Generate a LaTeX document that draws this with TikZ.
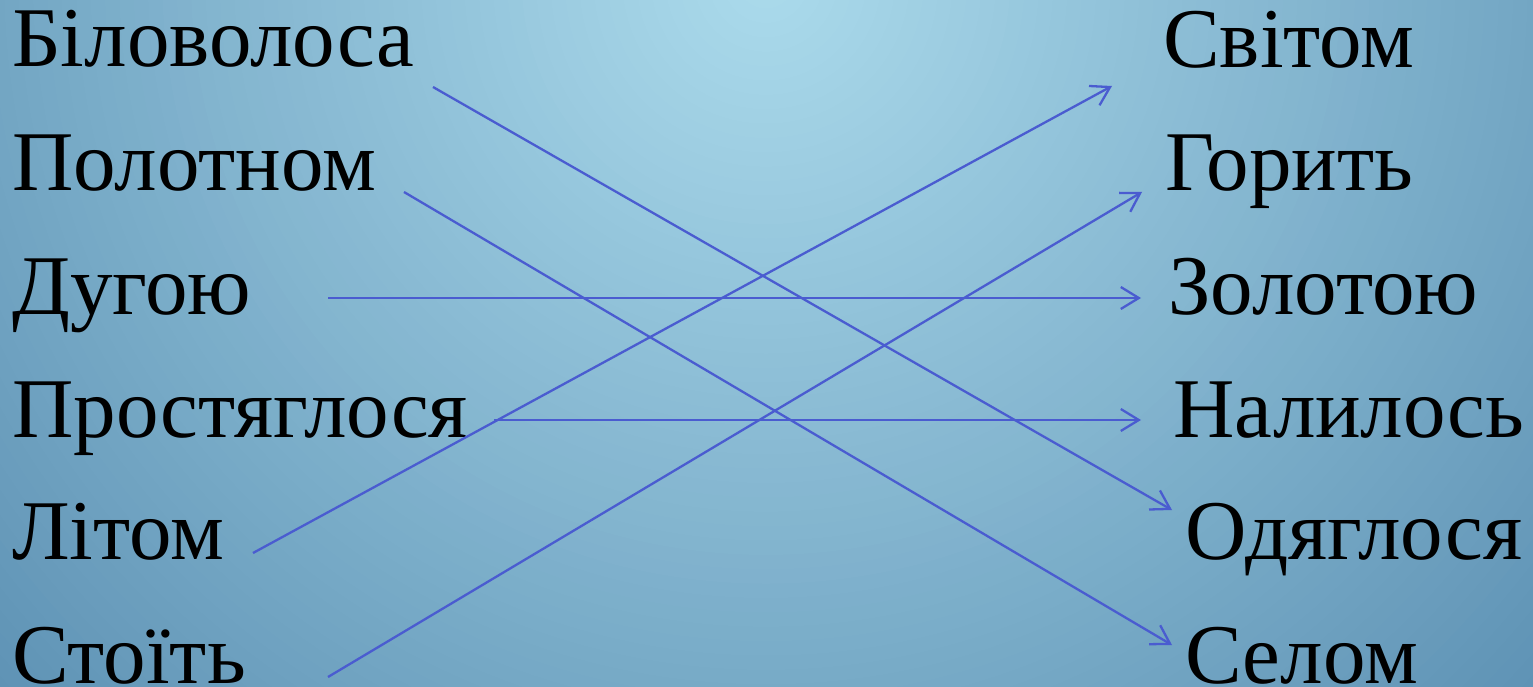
\documentclass[tikz,border=0pt]{standalone}
\usepackage{fontspec}
\setmainfont{Liberation Serif}
\usetikzlibrary{arrows.meta}
\definecolor{bginner}{RGB}{170,218,235}
\definecolor{bgouter}{RGB}{88,140,176}
\definecolor{arrowblue}{RGB}{74,92,208}
\tikzset{
  word/.style={anchor=base west, inner sep=0pt, text=black, font=\fontsize{85}{85}\selectfont},
  link/.style={draw=arrowblue, line width=2.3pt, -{Straight Barb[length=18pt,width=22pt,line width=2.3pt]}}
}
\begin{document}
\begin{tikzpicture}[x=1pt,y=-1pt]
\useasboundingbox (0,0) rectangle (1533,687);
\begin{scope}
\clip (0,0) rectangle (1533,687);
\fill[bgouter] (0,0) rectangle (1533,687);
\foreach \i in {0,...,79}{
  \pgfmathsetmacro{\rr}{1150*(1-\i/80)}
  \pgfmathsetmacro{\pp}{100*\i/79}
  \fill[bginner!\pp!bgouter] (766,-20) circle (\rr);
}
\end{scope}
% left words
\node[word] (l1) at (12,67) {Біловолоса};
\node[word] (l2) at (12,190) {Полотном};
\node[word] (l3) at (12,314) {Дугою};
\node[word] (l4) at (12,437) {Простяглося};
\node[word] (l5) at (12,559) {Літом};
\node[word] (l6) at (12,683) {Стоїть};
% right words
\node[word] (r1) at (1163,68) {Світом};
\node[word] (r2) at (1165,191) {Горить};
\node[word] (r3) at (1168,314) {Золотою};
\node[word] (r4) at (1173,437) {Налилось};
\node[word] (r5) at (1185,559) {Одяглося};
\node[word] (r6) at (1185,683) {Селом};
% arrow end points
\coordinate (a1) at (433,87);   \coordinate (b1) at (1172,510);
\coordinate (a2) at (404,192);  \coordinate (b2) at (1172,645);
\coordinate (a3) at (328,298);  \coordinate (b3) at (1141,298);
\coordinate (a4) at (494,420);  \coordinate (b4) at (1141,420);
\coordinate (a5) at (253,553);  \coordinate (b5) at (1112,86);
\coordinate (a6) at (328,677);  \coordinate (b6) at (1142,192);
\draw[link] (a1) -- (b1);
\draw[link] (a2) -- (b2);
\draw[link] (a3) -- (b3);
\draw[link] (a4) -- (b4);
\draw[link] (a5) -- (b5);
\draw[link] (a6) -- (b6);
\end{tikzpicture}
\end{document}
